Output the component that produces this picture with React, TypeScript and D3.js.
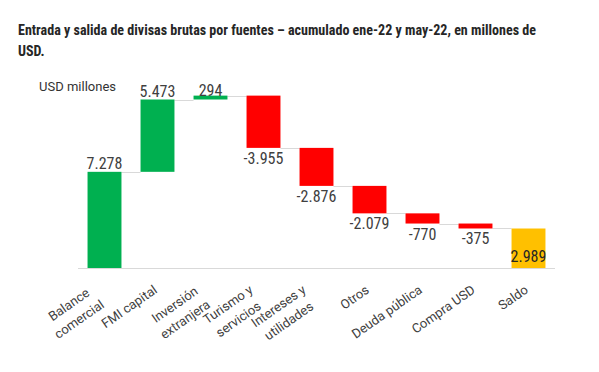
import React, { useMemo } from "react";
import * as d3 from "d3";

const categories = [
  "Balance\ncomercial",
  "FMI capital",
  "Inversión\nextranjera",
  "Turismo y\nservicios",
  "Intereses y\nutilidades",
  "Otros",
  "Deuda pública",
  "Compra USD",
  "Saldo",
];
const values = [7278, 5473, 294, -3955, -2876, -2079, -770, -375, 2989];
const isTotal = [false, false, false, false, false, false, false, false, true];
const yDomain = [0, 14000];

const titleLines = [
  "Entrada y salida de divisas brutas por fuentes – acumulado ene-22 y may-22, en millones de",
  "USD.",
];
const unitLabel = "USD millones";

const W = 599;
const H = 372;
const GREEN = "#00B050";
const RED = "#FF0000";
const GOLD = "#FFC000";
const GRID = "#D9D9D9";
const TEXT = "#404040";

const locale = d3.formatLocale({
  decimal: ",",
  thousands: ".",
  grouping: [3],
  currency: ["", ""],
  minus: "-",
});
const fmt = locale.format(",d");

const LABEL_FONT = "13px Roboto";
let measureCtx: CanvasRenderingContext2D | null = null;
function measure(text: string): number {
  if (!measureCtx) {
    const c = document.createElement("canvas");
    measureCtx = c.getContext("2d");
  }
  if (!measureCtx) return text.length * 6.5;
  measureCtx.font = LABEL_FONT;
  return measureCtx.measureText(text).width;
}

export default function App() {
  const x = d3
    .scaleBand<string>()
    .domain(categories)
    .range([78, 555])
    .paddingInner(0.36)
    .paddingOuter(0.18);
  const y = d3.scaleLinear().domain(yDomain).range([268, 83]);

  const bars = useMemo(() => {
    let cum = 0;
    return values.map((v, i) => {
      let start: number, end: number;
      if (isTotal[i]) {
        start = 0;
        end = v;
        cum = v;
      } else {
        start = cum;
        end = cum + v;
        cum = end;
      }
      return { cat: categories[i], v, start, end, total: isTotal[i] };
    });
  }, []);

  const bw = x.bandwidth();
  const labelTopLimit = y(yDomain[1]) + 13;
  const lineH = 18;

  return (
    <svg
      width={W}
      height={H}
      style={{ position: "absolute", left: 0, top: 0, background: "#fff" }}
    >
      <rect x={0} y={0} width={W} height={H} fill="#fff" />
      {/* title */}
      <text
        x={18}
        y={34.5}
        fontFamily="'Liberation Sans Narrow', 'Roboto Condensed', Roboto, sans-serif"
        fontWeight="bold"
        fontSize={14}
        fill="#262626"
        textLength={518}
        lengthAdjust="spacingAndGlyphs"
      >
        {titleLines[0]}
      </text>
      <text
        x={18}
        y={55.7}
        fontFamily="'Liberation Sans Narrow', 'Roboto Condensed', Roboto, sans-serif"
        fontWeight="bold"
        fontSize={14}
        fill="#262626"
      >
        {titleLines[1]}
      </text>
      <text x={39} y={90.5} fontFamily="Roboto, sans-serif" fontSize={13} fill="#333">
        {unitLabel}
      </text>

      {/* connectors */}
      {bars.slice(0, -1).map((b, i) => {
        const next = bars[i + 1];
        const x1 = (x(b.cat) as number) + bw;
        const x2 = x(next.cat) as number;
        const yy = Math.round(y(b.end)) + 0.5;
        return <line key={"c" + i} x1={x1} x2={x2} y1={yy} y2={yy} stroke={GRID} strokeWidth={1} />;
      })}

      {/* axis */}
      <line x1={78} x2={555} y1={268.5} y2={268.5} stroke={GRID} strokeWidth={1} />

      {/* bars */}
      {bars.map((b, i) => {
        const top = y(Math.max(b.start, b.end));
        const bottom = y(Math.min(b.start, b.end));
        const fill = b.total ? GOLD : b.v >= 0 ? GREEN : RED;
        return (
          <rect
            key={"b" + i}
            x={x(b.cat)}
            y={top}
            width={bw}
            height={Math.max(1, bottom - top)}
            fill={fill}
          />
        );
      })}

      {/* data labels */}
      {bars.map((b, i) => {
        const cx = (x(b.cat) as number) + bw / 2;
        let ly: number;
        if (b.total) ly = y(0) - 6;
        else if (b.v >= 0) ly = Math.max(y(b.end) - 3, labelTopLimit);
        else ly = y(b.end) + 16;
        return (
          <text
            key={"l" + i}
            x={cx}
            y={ly}
            textAnchor="middle"
            fontFamily="'Liberation Sans Narrow', 'Roboto Condensed', Roboto, sans-serif"
            fontSize={16}
            fill={b.total ? "#262626" : TEXT}
          >
            {fmt(b.v)}
          </text>
        );
      })}

      {/* category labels */}
      {categories.map((c, i) => {
        const lines = c.split("\n");
        const widths = lines.map(measure);
        const maxW = Math.max(...widths);
        const blockH = lines.length * lineH;
        const cx = (x(c) as number) + bw / 2;
        const tx = cx + 4 - Math.sin((35 * Math.PI) / 180) * blockH;
        const ty = 282;
        return (
          <g key={"x" + i} transform={`translate(${tx},${ty}) rotate(-35)`}>
            {lines.map((ln, j) => (
              <text
                key={j}
                x={-(maxW - widths[j]) / 2}
                y={12 + j * lineH}
                textAnchor="end"
                fontFamily="Roboto, sans-serif"
                fontSize={13}
                fill={TEXT}
              >
                {ln}
              </text>
            ))}
          </g>
        );
      })}
    </svg>
  );
}
